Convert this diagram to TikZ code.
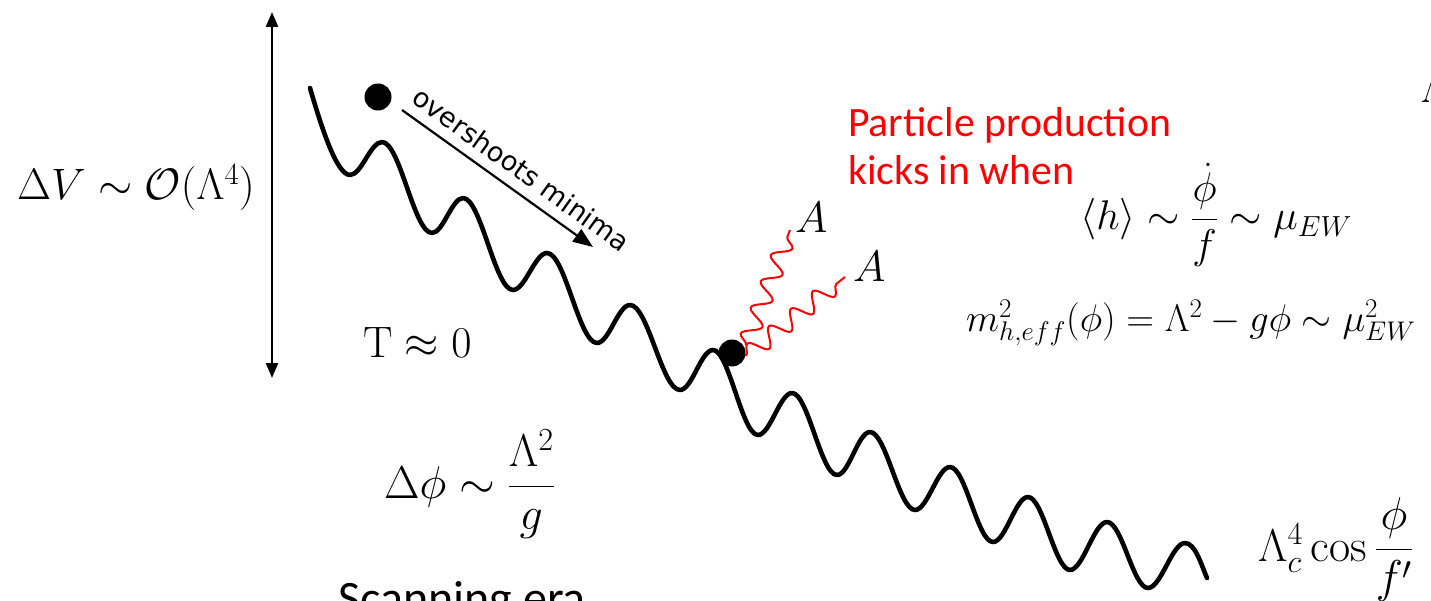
\RequirePackage{fix-cm}
\documentclass[tikz,border=0pt]{standalone}
\usepackage{amsmath}
\usepackage{fontspec}
\newfontfamily\calib{Carlito}
\newfontfamily\dvs{DejaVu Sans}
\usetikzlibrary{arrows.meta,decorations.pathmorphing}
\begin{document}
\begin{tikzpicture}[x=1pt,y=-1pt,
  wave/.style={line width=4.6pt, line cap=round, line join=round},
  ball/.style={circle, fill=black, inner sep=0pt, minimum size=27pt},
  photon/.style={red, line width=2pt, decorate, decoration={snake, amplitude=9pt, segment length=28pt}},
  bigmath/.style={font=\fontsize{44}{53}\selectfont, inner sep=0pt, anchor=base west},
  fracmath/.style={font=\fontsize{46}{55}\selectfont, inner sep=0pt, anchor=base west},
  midmath/.style={font=\fontsize{41.5}{50}\selectfont, inner sep=0pt, anchor=base west},
  smallmath/.style={font=\fontsize{38.5}{46}\selectfont, inner sep=0pt, anchor=base west},
  redtext/.style={font=\calib\fontsize{41.8}{50}\selectfont, text=red, inner sep=0pt, anchor=base west},
  blacktext/.style={font=\calib\fontsize{48}{57}\selectfont, inner sep=0pt, anchor=base west},
  dblarrow/.style={line width=2.5pt, {Triangle[length=15pt,width=12pt]}-{Triangle[length=15pt,width=12pt]}},
  motion/.style={line width=2.2pt, -{Triangle[length=20pt,width=15pt]}},
  motionlabel/.style={font=\dvs\fontsize{27}{32}\selectfont, inner sep=0pt}]
\useasboundingbox (0,0) rectangle (1431,601);
\begin{scope}
\clip (0,0) rectangle (1431,601);
% potential
\draw[wave] (310,88) .. controls (320,122) and (336,175) .. (350,175)
 .. controls +(11.5,0) and +(-11.5,0) .. (382,142)
 .. controls +(18,0) and +(-18,0) .. (432,233)
 .. controls +(11,0) and +(-11,0) .. (463,198)
 .. controls +(18,0) and +(-18,0) .. (513,290)
 .. controls +(12,0) and +(-12,0) .. (547,253)
 .. controls +(18,0) and +(-18,0) .. (597,343)
 .. controls +(12,0) and +(-12,0) .. (630,305)
 .. controls +(18,0) and +(-18,0) .. (680,390)
 .. controls +(12,0) and +(-12,0) .. (713,350)
 .. controls +(16,0) and +(-16,0) .. (758,435)
 .. controls +(12,0) and +(-12,0) .. (792,393)
 .. controls +(16,0) and +(-16,0) .. (837,475)
 .. controls +(12,0) and +(-12,0) .. (870,432)
 .. controls +(16,0) and +(-16,0) .. (915,510)
 .. controls +(12.5,0) and +(-12.5,0) .. (950,467)
 .. controls +(15.5,0) and +(-15.5,0) .. (993,542)
 .. controls +(12.5,0) and +(-12.5,0) .. (1028,497)
 .. controls +(15,0) and +(-15,0) .. (1070,570)
 .. controls +(13,0) and +(-13,0) .. (1107,522)
 .. controls +(15,0) and +(-15,0) .. (1148,588)
 .. controls +(13,0) and +(-13,0) .. (1185,543)
 .. controls +(10,0) and +(-6,-14) .. (1207,578);
% photons
\coordinate (ph1s) at (746,345);
\coordinate (ph2s) at (746,356);
\coordinate (ph1e) at (790,230);
\coordinate (ph2e) at (845,277);
\draw[photon] (ph1s) -- (ph1e);
\draw[photon] (ph2s) -- (ph2e);
% balls
\node[ball] (b1) at (378,97) {};
\node[ball] (b2) at (732,353) {};
% vertical range arrow
\coordinate (vt) at (272,12);
\coordinate (vb) at (272,378);
\draw[dblarrow] (vt) -- (vb);
% overshoot arrow
\coordinate (os) at (402,110);
\coordinate (oe) at (593,247);
\draw[motion] (os) -- node[motionlabel, sloped, above=10pt, pos=0.56] {overshoots minima} (oe);
% labels
\node[bigmath] (dV) at (17,200) {$\Delta V\sim\mathcal{O}(\Lambda^4)$};
\node[bigmath] (Tz) at (363,357) {$\mathrm{T}\approx 0$};
\node[fracmath] (dphi) at (384,498) {$\Delta\phi\sim\dfrac{\Lambda^2}{g}$};
\node[bigmath] (A1) at (795,233) {$A$};
\node[bigmath] (A2) at (853,282) {$A$};
\node[redtext] (pp1) at (848,137) {Particle production};
\node[redtext] (pp2) at (848,185) {kicks in when};
\node[midmath] (hvev) at (1080,230) {$\langle h\rangle\sim\dfrac{\dot\phi}{f}\sim\mu_{EW}$};
\node[smallmath] (meff) at (966,331) {$m^2_{h,eff}(\phi)=\Lambda^2-g\phi\sim\mu^2_{EW}$};
\node[fracmath] (cosn) at (1258,561) {$\Lambda_c^4\cos\dfrac{\phi}{f'}$};
\node[bigmath] (cut) at (1421,103) {$\Lambda$};
\node[blacktext] (scan) at (338,614) {Scanning era};
\end{scope}
\end{tikzpicture}
\end{document}
